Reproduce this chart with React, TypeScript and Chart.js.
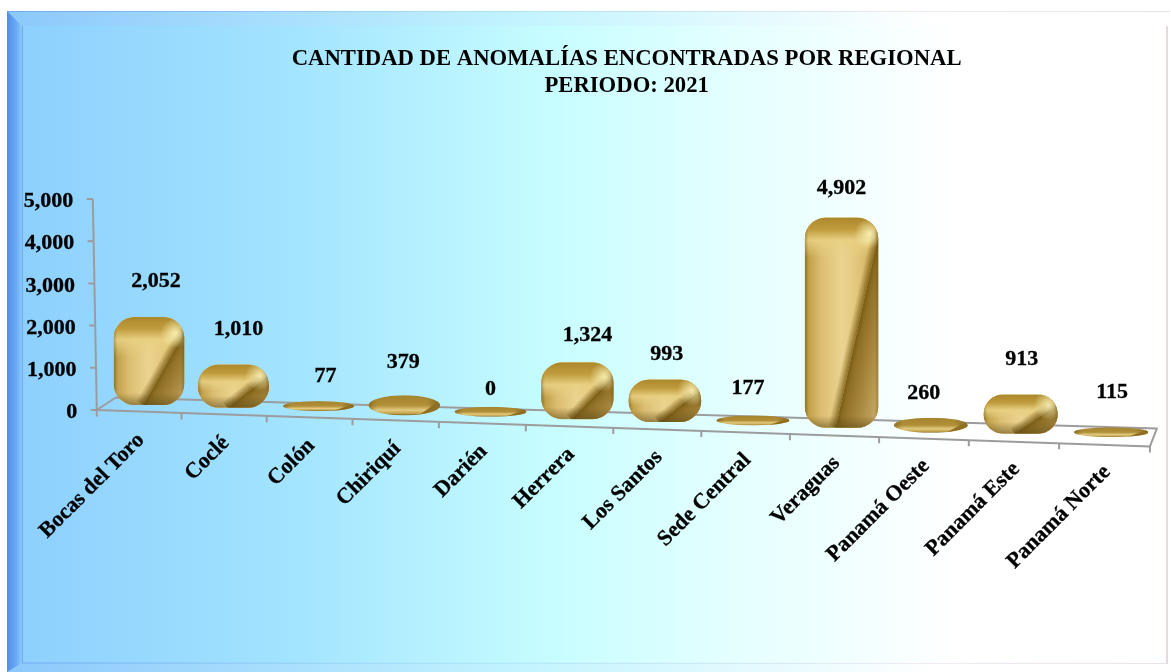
import React, { useEffect, useRef } from "react";
import { Chart, registerables } from "chart.js";

Chart.register(...registerables);

const categories = ["Bocas del Toro", "Coclé", "Colón", "Chiriquí", "Darién", "Herrera", "Los Santos", "Sede Central", "Veraguas", "Panamá Oeste", "Panamá Este", "Panamá Norte"];
const anomalies = [2052, 1010, 77, 379, 0, 1324, 993, 177, 4902, 260, 913, 115];
const yTicks = [0, 1000, 2000, 3000, 4000, 5000];
const titleLines = ["CANTIDAD DE ANOMALÍAS ENCONTRADAS POR REGIONAL", "PERIODO: 2021"];

const FONT = "'Liberation Serif', 'Times New Roman', serif";
const SLOPE = 0.033;
const W = 1171;
const H = 672;
const fmt = (v: number) => v.toLocaleString("en-US");

// Nudges of the value labels relative to the top of each bar [dx, dy]
const labelNudge: [number, number][] = [[7, -36], [5, -35], [7, -25], [-1, -35], [0, -18], [10, -27], [2, -25], [-5, -28], [0, -29], [-7, -26], [1, -35], [1, -35]];

// Perspective of the floor: spacing grows slightly towards the right
const perspective = (i: number, spacing: number) => i * spacing * (0.9634 + 0.0034 * i);

function roundedPath(ctx: CanvasRenderingContext2D, x: number, y: number, w: number, h: number, r: number) {
  ctx.beginPath();
  ctx.roundRect(x, y, w, h, r);
}

function drawTallBar(ctx: CanvasRenderingContext2D, cx: number, top: number, bottom: number, w: number) {
  const left = cx - w / 2;
  const right = cx + w / 2;
  const h = bottom - top;
  const r = Math.min(21, h / 2);
  ctx.save();
  roundedPath(ctx, left, top, w, h, r);
  ctx.clip();

  const horiz = ctx.createLinearGradient(left, 0, right, 0);
  horiz.addColorStop(0, "#a88a38");
  horiz.addColorStop(0.07, "#c4a44f");
  horiz.addColorStop(0.22, "#dcbe72");
  horiz.addColorStop(0.5, "#ebd490");
  horiz.addColorStop(0.7, "#e4c77e");
  horiz.addColorStop(1, "#c9a955");
  ctx.fillStyle = horiz;
  ctx.fillRect(left, top, w, h);

  // top cap, melting into the body
  const capH = Math.min(24, h * 0.42);
  const fade = Math.min(16, h * 0.2);
  const total = capH + fade;
  const cap = ctx.createLinearGradient(0, top, 0, top + total);
  cap.addColorStop(0, "rgba(172,136,44,1)");
  cap.addColorStop((capH * 0.5) / total, "rgba(192,156,62,1)");
  cap.addColorStop((capH * 0.95) / total, "rgba(232,208,130,0.9)");
  cap.addColorStop(1, "rgba(232,208,130,0)");
  ctx.fillStyle = cap;
  ctx.fillRect(left, top, w, total);

  // diagonal facet
  const x0 = cx - 6;
  const y0 = bottom;
  const x1 = right + 1;
  const y1 = top + Math.min(14, h * 0.22);
  const dx = x1 - x0;
  const dy = y1 - y0;
  const len = Math.hypot(dx, dy);
  const nx = -dy / len;
  const ny = dx / len;
  const diag = ctx.createLinearGradient(x0, y0, x0 + nx * 34, y0 + ny * 34);
  diag.addColorStop(0, "#7a5c14");
  diag.addColorStop(0.15, "#8f7026");
  diag.addColorStop(0.6, "#a98a40");
  diag.addColorStop(1, "#c0a35e");
  ctx.fillStyle = diag;
  ctx.beginPath();
  ctx.moveTo(x0, y0);
  ctx.lineTo(x1, y1);
  ctx.lineTo(x1 + 2, bottom + 1);
  ctx.closePath();
  ctx.fill();

  // soft dark edge before the facet
  const soft = ctx.createLinearGradient(x0, y0, x0 - nx * 8, y0 - ny * 8);
  soft.addColorStop(0, "rgba(125,95,25,0.85)");
  soft.addColorStop(1, "rgba(125,95,25,0)");
  ctx.fillStyle = soft;
  ctx.beginPath();
  ctx.moveTo(x0, y0);
  ctx.lineTo(x1, y1);
  ctx.lineTo(x1 - nx * 8, y1 - ny * 8);
  ctx.lineTo(x0 - nx * 8, y0 - ny * 8);
  ctx.closePath();
  ctx.fill();

  // highlight near the top end of the facet
  const glow = ctx.createRadialGradient(x1 - 10, y1 + 2, 0, x1 - 10, y1 + 2, 15);
  glow.addColorStop(0, "rgba(255,248,190,0.85)");
  glow.addColorStop(1, "rgba(255,248,190,0)");
  ctx.fillStyle = glow;
  ctx.fillRect(left, top, w, h);

  // bottom rim
  const rim = ctx.createLinearGradient(0, bottom - 12, 0, bottom);
  rim.addColorStop(0, "rgba(90,70,20,0)");
  rim.addColorStop(1, "rgba(90,70,20,0.55)");
  ctx.fillStyle = rim;
  ctx.fillRect(left, bottom - 12, w, 12);

  // side rims
  const side = ctx.createLinearGradient(left, 0, right, 0);
  side.addColorStop(0, "rgba(90,70,20,0.35)");
  side.addColorStop(0.05, "rgba(90,70,20,0)");
  side.addColorStop(0.95, "rgba(90,70,20,0)");
  side.addColorStop(1, "rgba(90,70,20,0.35)");
  ctx.fillStyle = side;
  ctx.fillRect(left, top, w, h);
  ctx.restore();
}

function drawFlatBar(ctx: CanvasRenderingContext2D, cx: number, top: number, bottom: number, w: number) {
  const cy = (top + bottom) / 2;
  const ry = (bottom - top) / 2;
  const rx = w / 2;
  ctx.save();
  ctx.beginPath();
  ctx.ellipse(cx, cy, rx, ry, 0, 0, Math.PI * 2);
  ctx.clip();
  const g = ctx.createLinearGradient(0, top, 0, bottom);
  g.addColorStop(0, "#a5842e");
  g.addColorStop(0.5, "#b18f38");
  g.addColorStop(0.74, "#e2cb80");
  g.addColorStop(0.9, "#c4a34b");
  g.addColorStop(1, "#7d6220");
  ctx.fillStyle = g;
  ctx.fillRect(cx - rx, top, w, bottom - top);
  const d = ctx.createLinearGradient(cx - rx, 0, cx + rx, 0);
  d.addColorStop(0, "rgba(110,85,25,0.55)");
  d.addColorStop(0.12, "rgba(110,85,25,0)");
  d.addColorStop(0.82, "rgba(110,85,25,0)");
  d.addColorStop(1, "rgba(110,85,25,0.6)");
  ctx.fillStyle = d;
  ctx.fillRect(cx - rx, top, w, bottom - top);
  ctx.fillStyle = "#8f7022";
  ctx.beginPath();
  ctx.moveTo(cx + rx * 0.4, bottom);
  ctx.lineTo(cx + rx, top + (bottom - top) * 0.25);
  ctx.lineTo(cx + rx, bottom);
  ctx.closePath();
  ctx.fill();
  ctx.restore();
}

function drawFrame(ctx: CanvasRenderingContext2D) {
  const L = 7, T = 11, IL = 22, IT = 26, IR = 1167, IB = 663;
  ctx.save();
  ctx.fillStyle = "#ffffff";
  ctx.fillRect(0, 0, W, H);

  const bg = ctx.createLinearGradient(L, 0, IR, 0);
  bg.addColorStop(0, "#8ccffd");
  bg.addColorStop(0.25, "#a3e4ff");
  bg.addColorStop(0.47, "#c7fdff");
  bg.addColorStop(0.62, "#e3ffff");
  bg.addColorStop(0.82, "#ffffff");
  bg.addColorStop(1, "#ffffff");
  ctx.fillStyle = bg;
  ctx.fillRect(L, T, IR - L, H - T);

  // top bevel
  const tb = ctx.createLinearGradient(L, 0, IR, 0);
  tb.addColorStop(0, "#8cc8fb");
  tb.addColorStop(0.45, "#c4f4ff");
  tb.addColorStop(0.8, "#ffffff");
  ctx.fillStyle = tb;
  ctx.fillRect(L, T, IR - L, IT - T);

  // bottom bevel
  ctx.fillStyle = tb;
  ctx.fillRect(L, IB, IR - L, H - IB);

  // left bevel
  const lb = ctx.createLinearGradient(L, 0, IL, 0);
  lb.addColorStop(0, "#4f8fe8");
  lb.addColorStop(0.6, "#6aa9f4");
  lb.addColorStop(1, "#8cc8fb");
  ctx.fillStyle = lb;
  ctx.beginPath();
  ctx.moveTo(L, T);
  ctx.lineTo(IL, IT);
  ctx.lineTo(IL, IB);
  ctx.lineTo(L, H);
  ctx.closePath();
  ctx.fill();

  // inner lines
  const line = ctx.createLinearGradient(L, 0, IR, 0);
  line.addColorStop(0, "#6fa8f0");
  line.addColorStop(0.4, "#a9e2f8");
  line.addColorStop(0.8, "#f1e9f3");
  line.addColorStop(1, "#ece2ec");
  ctx.strokeStyle = line;
  ctx.lineWidth = 1;
  ctx.beginPath();
  ctx.moveTo(IL + 0.5, IT);
  ctx.lineTo(IL + 0.5, IB);
  ctx.lineTo(IR, IB + 0.5);
  ctx.moveTo(L, T + 0.5);
  ctx.lineTo(IR + 3, T + 0.5);
  ctx.stroke();

  ctx.strokeStyle = "#e2dbe2";
  ctx.lineWidth = 2;
  ctx.beginPath();
  ctx.moveTo(IR, IT);
  ctx.lineTo(IR, IB + 1);
  ctx.stroke();
  ctx.restore();
}

const scenePlugin = {
  id: "scene",
  afterLayout(chart: any) {
    chart.titleBlock.left -= 3;
    chart.titleBlock.right -= 3;
  },
  beforeDraw(chart: any) {
    const ctx = chart.ctx as CanvasRenderingContext2D;
    drawFrame(ctx);
    const { x, y } = chart.scales;
    const pivot = x.getPixelForTick(0);
    const spacing = x.getPixelForTick(1) - pivot;
    const base = y.getPixelForValue(0);
    const k = 211 / (base - y.getPixelForValue(5000));
    x.getLabelItems(chart.chartArea).forEach((it: any, i: number) => {
      const [px, py] = it.options.translation;
      const nx = px + (perspective(i, spacing) - i * spacing);
      it.options.translation = [nx - 8 + (4 * i) / 11, py + SLOPE * (nx - pivot) + 1];
    });
    y.getLabelItems(chart.chartArea).forEach((it: any) => {
      const [px, py] = it.options.translation;
      const ny = base + 7.5 + (py - base) * k;
      it.options.translation = [px + (ny - 410) * 0.019, ny];
    });
  },
  beforeDatasetsDraw(chart: any) {
    const ctx = chart.ctx as CanvasRenderingContext2D;
    const { x, y } = chart.scales;
    const base = y.getPixelForValue(0);
    const fl = x.left - 8.5;
    const frontY = (px: number) => base + 5.5 + (px - fl) * 0.0341;
    const tickX = (i: number) => fl + i * (84.4 + 0.28 * i);
    const fr = tickX(categories.length);
    const k = 211 / (base - y.getPixelForValue(5000));
    const axisX = (val: number) => fl - (val / 5000) * 4;
    const axisY = (val: number) => base + 5 - (base - y.getPixelForValue(val)) * k;
    ctx.save();
    ctx.strokeStyle = "#9c9c9c";
    ctx.lineWidth = 2;
    ctx.lineJoin = "round";
    ctx.beginPath();
    ctx.moveTo(axisX(5000), axisY(5000));
    ctx.lineTo(axisX(0), axisY(0));
    ctx.lineTo(fr, frontY(fr));
    ctx.lineTo(fr + 7, frontY(fr) - 18);
    ctx.lineTo(fl + 19, frontY(fl) - 13);
    ctx.lineTo(axisX(0), axisY(0));
    ctx.stroke();
    ctx.beginPath();
    yTicks.forEach((t) => {
      ctx.moveTo(axisX(t) - 6, axisY(t));
      ctx.lineTo(axisX(t), axisY(t));
    });
    for (let i = 0; i <= categories.length; i++) {
      const px = tickX(i);
      ctx.moveTo(px, frontY(px));
      ctx.lineTo(px, frontY(px) + 6);
    }
    ctx.stroke();
    ctx.restore();
  },
  afterDatasetsDraw(chart: any) {
    const ctx = chart.ctx as CanvasRenderingContext2D;
    const meta = chart.getDatasetMeta(0);
    meta.data.forEach((el: any) => {
      const h = Math.abs(el.base - el.y);
      const top = Math.min(el.y, el.base);
      const bottom = Math.max(el.y, el.base);
      if (h < 22) {
        const extra = h > 9 ? 2 : 0.5;
        drawFlatBar(ctx, el.x, top - extra, bottom + extra, el.width);
      } else {
        drawTallBar(ctx, el.x, top, bottom, el.width);
      }
    });
    ctx.save();
    ctx.font = `bold 22px ${FONT}`;
    ctx.fillStyle = "#000";
    ctx.strokeStyle = "#000";
    ctx.lineWidth = 0.3;
    ctx.textAlign = "center";
    ctx.textBaseline = "middle";
    meta.data.forEach((el: any, i: number) => {
      const [dx, dy] = labelNudge[i];
      const top = Math.min(el.y, el.base);
      ctx.strokeText(fmt(anomalies[i]), el.x + dx, top + dy);
      ctx.fillText(fmt(anomalies[i]), el.x + dx, top + dy);
    });
    ctx.restore();
  },
  afterDatasetsUpdate(chart: any) {
    const meta = chart.getDatasetMeta(0);
    const x = chart.scales.x;
    const pivot = x.getPixelForTick(0);
    const spacing = x.getPixelForTick(1) - pivot;
    meta.data.forEach((el: any, i: number) => {
      el.x = pivot + perspective(i, spacing);
      el.width = el.width - 2 + 0.36 * i;
      const off = SLOPE * (el.x - pivot);
      el.y += off;
      el.base += off;
    });
  },
};

export default function App() {
  const ref = useRef<HTMLCanvasElement>(null);
  useEffect(() => {
    document.body.style.margin = "0";
    const chart = new Chart(ref.current as HTMLCanvasElement, {
      type: "bar",
      data: {
        labels: categories,
        datasets: [
          {
            label: "Anomalías",
            data: anomalies,
            backgroundColor: (c: any) => (Math.abs(anomalies[c.dataIndex]) < 500 ? "rgba(0,0,0,0)" : "#d9b968"),
            borderWidth: 0,
            borderRadius: 21,
            borderSkipped: false,
            barPercentage: 0.83,
            categoryPercentage: 1,
            minBarLength: 9,
            clip: false,
          } as any,
        ],
      },
      options: {
        responsive: false,
        animation: false,
        devicePixelRatio: 1,
        layout: { padding: { left: 0, right: 17, top: 0, bottom: 0 } },
        plugins: {
          legend: { display: false },
          tooltip: { enabled: false },
          title: {
            display: true,
            fullSize: false,
            text: titleLines,
            color: "#000",
            font: { family: FONT, size: 22.7, weight: "bold", lineHeight: 1.17 },
            padding: { top: 46, bottom: 91.4 },
          },
        } as any,
        scales: {
          x: {
            grid: { display: false },
            border: { display: false },
            ticks: {
              autoSkip: false,
              minRotation: 45,
              maxRotation: 45,
              padding: 14,
              color: "#000",
              textStrokeColor: "#000",
              textStrokeWidth: 0.3,
              font: { family: FONT, size: 22, weight: "bold" },
            },
            afterFit: (s: any) => {
              s.height = 267;
              s.paddingLeft = 0;
              s.paddingRight = 0;
            },
          },
          y: {
            min: 0,
            max: 5000,
            grid: { display: false },
            border: { display: false },
            ticks: {
              stepSize: 1000,
              padding: 20,
              color: "#000",
              textStrokeColor: "#000",
              textStrokeWidth: 0.3,
              font: { family: FONT, size: 22, weight: "bold" },
              callback: (v: any) => fmt(Number(v)),
            },
            afterFit: (s: any) => {
              s.width = 105.3;
              s.paddingTop = 0;
              s.paddingBottom = 0;
            },
          },
        },
      } as any,
      plugins: [scenePlugin],
    });
    return () => chart.destroy();
  }, []);
  return <canvas ref={ref} width={W} height={H} style={{ display: "block" }} />;
}
